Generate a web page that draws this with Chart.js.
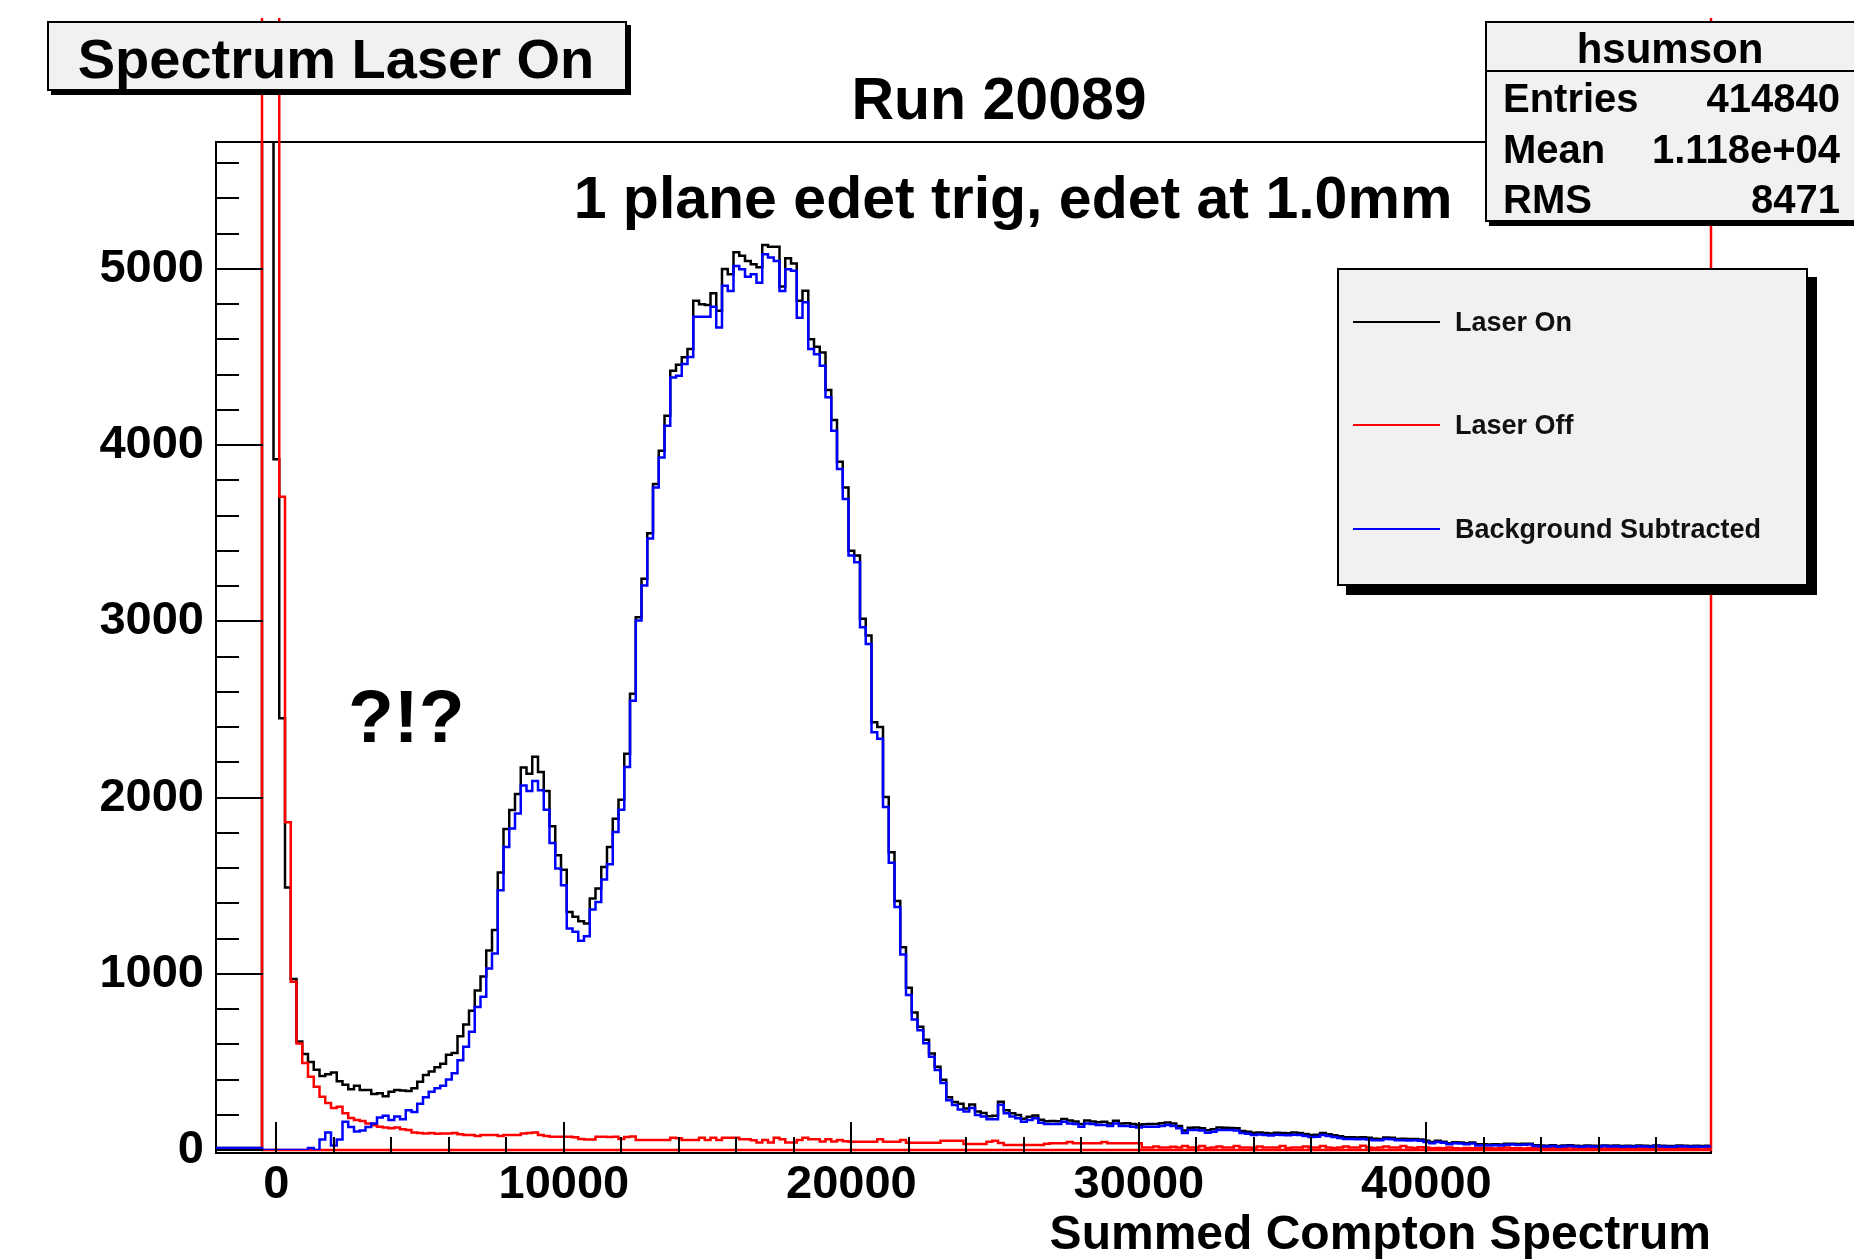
<!DOCTYPE html>
<html lang="en">
<head>
<meta charset="utf-8">
<title>Spectrum Laser On</title>
<script src="https://cdn.jsdelivr.net/npm/chart.js@4.4.1/dist/chart.umd.min.js"></script>
<style>
    html, body { margin: 0; padding: 0; background: #fff; }
    body {
        width: 1854px; height: 1260px; overflow: hidden; position: relative;
        font-family: "Liberation Sans", Arial, Helvetica, sans-serif; font-weight: bold; color: #000;
    }
    #spectrumChart { position: absolute; left: 0; top: 0; }
    .pave { position: absolute; box-sizing: border-box; background: #f3f0f3; border: 2px solid #000; }
    .txt { position: absolute; white-space: nowrap; line-height: 1; }
    .center { transform: translateX(-50%); }
    .legend-line { position: absolute; width: 87px; height: 2px; }
</style>
</head>
<body>
<canvas id="spectrumChart" width="1854" height="1260"></canvas>

<div class="pave" style="left:47px; top:21px; width:580px; height:70px; box-shadow:4px 4px 0 #000;"></div>
<span class="txt center" style="left:336px; top:31px; font-size:56px;">Spectrum Laser On</span>

<span class="txt center" style="left:999px; top:70px; font-size:59px;">Run 20089</span>
<span class="txt center" style="left:1013px; top:169px; font-size:59px;">1 plane edet trig, edet at 1.0mm</span>
<span class="txt" style="left:348px; top:679px; font-size:75px;">?!?</span>

<div id="stats"></div>
<div id="legend"></div>

<script>
// --- HISTOGRAM BINNING ---
const BIN_LOW = -2100;
const BIN_WIDTH = 200;
const X_MIN = -2100;
const X_MAX = 49900;
const Y_MAX = 5720;
const OFF_SCALE = 60000; // pedestal bins run far past the top of the frame

// labelled ticks, plus minor tick spacing
const xTickValues = [0, 10000, 20000, 30000, 40000];
const yTickValues = [0, 1000, 2000, 3000, 4000, 5000];
const X_MAJOR = 10000, X_MINOR = 2000;
const Y_MAJOR = 1000, Y_MINOR = 200;

// --- DATA (counts per 200-channel bin, starting at -2100) ---
const laserOn = [
    12, 12, 12, 12, 12, 12, 12, 12, OFF_SCALE, OFF_SCALE,
    3920, 2450, 1490, 970, 615, 545, 500, 455, 420, 430,
    440, 390, 370, 345, 365, 340, 340, 318, 322, 305,
    330, 340, 338, 335, 350, 387, 425, 445, 470, 490,
    540, 550, 645, 712, 790, 905, 985, 1132, 1248, 1575,
    1822, 1930, 2020, 2170, 2135, 2232, 2145, 2037, 1837, 1672,
    1590, 1351, 1323, 1298, 1285, 1427, 1484, 1606, 1720, 1880,
    1988, 2249, 2589, 3023, 3241, 3500, 3779, 3968, 4167, 4422,
    4456, 4498, 4546, 4819, 4800, 4795, 4862, 4762, 5000, 4970,
    5094, 5075, 5045, 5026, 5009, 5136, 5125, 5125, 4900, 5061,
    5030, 4819, 4876, 4601, 4558, 4525, 4313, 4143, 3905, 3760,
    3401, 3374, 3014, 2920, 2428, 2400, 2003, 1690, 1413, 1150,
    920, 780, 700, 625, 548, 472, 398, 300, 272, 262,
    236, 258, 218, 210, 192, 194, 274, 225, 208, 198,
    178, 188, 196, 171, 163, 164, 163, 176, 168, 162,
    148, 168, 162, 158, 160, 150, 166, 151, 152, 148,
    142, 146, 147, 148, 152, 156, 150, 136, 110, 126,
    128, 124, 112, 118, 128, 126, 125, 123, 108, 103,
    98, 100, 96, 94, 98, 97, 95, 99, 96, 91,
    85, 86, 96, 90, 84, 78, 72, 72, 71, 72,
    69, 64, 63, 71, 70, 63, 64, 62, 63, 60,
    52, 45, 52, 47, 38, 44, 43, 38, 43, 32,
    33, 31, 33, 31, 35, 36, 34, 35, 36, 27,
    26, 24, 27, 23, 26, 27, 24, 22, 25, 24,
    23, 26, 24, 25, 23, 24, 22, 25, 24, 23,
    26, 24, 22, 23, 25, 24, 23, 24, 22, 24
];

const laserOff = [
    null, null, null, null, null, null, null, null, OFF_SCALE, OFF_SCALE,
    OFF_SCALE, 3707, 1860, 955, 604, 493, 416, 359, 302, 266,
    238, 245, 208, 181, 170, 165, 151, 140, 132, 128,
    124, 128, 118, 113, 100, 96, 94, 97, 92, 94,
    94, 97, 90, 85, 85, 80, 85, 85, 85, 80,
    85, 85, 85, 94, 97, 100, 85, 80, 75, 75,
    75, 75, 72, 62, 60, 60, 75, 75, 74, 75,
    62, 74, 76, 57, 57, 57, 57, 57, 57, 70,
    66, 57, 57, 57, 70, 57, 70, 57, 70, 70,
    70, 61, 61, 55, 42, 57, 42, 70, 61, 42,
    42, 57, 70, 61, 61, 48, 61, 48, 57, 50,
    47, 47, 47, 47, 47, 61, 47, 47, 47, 57,
    41, 41, 41, 41, 41, 41, 53, 53, 53, 53,
    34, 34, 34, 34, 47, 53, 40, 28, 28, 28,
    28, 28, 28, 28, 35, 38, 38, 38, 45, 38,
    38, 38, 38, 38, 45, 38, 38, 38, 38, 38,
    38, 14, 14, 20, 14, 14, 18, 14, 22, 14,
    14, 22, 12, 14, 20, 14, 14, 22, 14, 14,
    12, 20, 14, 14, 14, 22, 12, 14, 14, 20,
    14, 14, 22, 14, 12, 14, 20, 14, 14, 24,
    14, 12, 14, 20, 14, 14, 22, 14, 12, 16,
    14, 10, 12, 10, 14, 10, 8, 12, 10, 10,
    12, 10, 8, 10, 14, 10, 10, 8, 12, 10,
    10, 8, 12, 10, 10, 14, 8, 10, 10, 12,
    10, 8, 10, 12, 10, 10, 8, 10, 12, 10,
    8, 10, 10, 12, 10, 8, 10, 10, 14, 10
];

const bgSubtracted = [
    12, 12, 12, 12, 12, 12, 12, 12, 0, 0,
    0, 0, 0, 0, 0, 0, 12, 0, 60, 100,
    25, 60, 160, 130, 105, 110, 130, 150, 185, 195,
    170, 190, 175, 225, 215, 262, 300, 330, 350, 365,
    400, 435, 510, 586, 671, 812, 869, 1030, 1115, 1474,
    1720, 1824, 1909, 2069, 2037, 2094, 2041, 1931, 1742, 1597,
    1502, 1257, 1238, 1187, 1213, 1365, 1408, 1535, 1621, 1805,
    1931, 2173, 2550, 3005, 3203, 3470, 3760, 3930, 4110, 4384,
    4393, 4460, 4500, 4728, 4728, 4728, 4785, 4668, 4904, 4875,
    5017, 4998, 4955, 4970, 4922, 5083, 5064, 5045, 4875, 4998,
    4990, 4723, 4810, 4545, 4516, 4450, 4271, 4082, 3864, 3694,
    3374, 3335, 2967, 2872, 2371, 2334, 1946, 1630, 1379, 1110,
    880, 740, 680, 606, 529, 454, 380, 283, 255, 230,
    218, 238, 198, 190, 175, 175, 257, 208, 190, 180,
    161, 170, 180, 155, 147, 147, 147, 161, 151, 147,
    132, 151, 147, 142, 142, 136, 151, 136, 136, 132,
    128, 132, 132, 132, 136, 142, 136, 123, 96, 113,
    113, 110, 98, 104, 113, 113, 113, 110, 96, 92,
    85, 88, 85, 82, 86, 85, 84, 87, 85, 80,
    74, 75, 85, 80, 74, 68, 62, 63, 61, 62,
    60, 55, 55, 62, 61, 55, 56, 54, 55, 53,
    45, 38, 45, 41, 32, 38, 37, 32, 37, 26,
    27, 25, 27, 26, 30, 31, 29, 30, 31, 22,
    21, 20, 23, 19, 21, 22, 20, 18, 21, 20,
    19, 22, 20, 21, 19, 20, 18, 21, 20, 19,
    22, 20, 18, 19, 21, 20, 19, 20, 18, 20
];

// closing outline of the laser-off histogram (edges of its filled range)
const offFloorX = [-500, -500, 49900, 49900];
const offFloorY = [OFF_SCALE, 0, 0, OFF_SCALE];

const statsTitle = 'hsumson';
const statsRows = [['Entries', '414840'], ['Mean', '1.118e+04'], ['RMS', '8471']];

// --- HELPERS ---
const FONT = '"Liberation Sans", Arial, Helvetica, sans-serif';
const LINE_WIDTH = 2.5;

// one point per low bin edge plus a closing point at the last upper edge
const toSteps = (values) => {
    const pts = values.map((v, i) => ({ x: BIN_LOW + i * BIN_WIDTH, y: v }));
    pts.push({ x: BIN_LOW + values.length * BIN_WIDTH, y: values[values.length - 1] });
    return pts;
};

const series = [
    { label: 'Laser On', color: '#000000', values: laserOn, order: 3 },
    { label: 'Laser Off', color: '#ff0000', values: laserOff, order: 1 },
    { label: 'Background Subtracted', color: '#0000ff', values: bgSubtracted, order: 0 }
];

// lines of the red histogram are not clipped at the top of the frame
const redClip = { left: 2, top: 124, right: 2, bottom: 3 };

const datasets = series.map(s => ({
    label: s.label,
    data: toSteps(s.values),
    borderColor: s.color,
    borderWidth: LINE_WIDTH,
    stepped: true,
    pointRadius: 0,
    spanGaps: false,
    order: s.order,
    clip: s.color === '#ff0000' ? redClip : undefined
}));

datasets.push({
    label: 'Laser Off outline',
    data: offFloorX.map((x, i) => ({ x, y: offFloorY[i] })),
    borderColor: '#ff0000',
    borderWidth: LINE_WIDTH,
    pointRadius: 0,
    order: 2,
    clip: redClip
});

// --- FRAME AND INSIDE TICKS ---
const rootFrame = {
    id: 'rootFrame',
    beforeDatasetsDraw(chart) {
        const { ctx, chartArea: a } = chart;
        ctx.save();
        ctx.strokeStyle = '#000';
        ctx.lineWidth = 2;
        ctx.strokeRect(a.left, a.top, a.right - a.left, a.bottom + 3 - a.top);
        ctx.restore();
    },
    afterDatasetsDraw(chart) {
        const { ctx, chartArea: a, scales: { x, y } } = chart;
        ctx.save();
        ctx.strokeStyle = '#000';
        ctx.lineWidth = 2;
        ctx.beginPath();
        for (let v = 0; v <= Y_MAX; v += Y_MINOR) {
            const py = Math.round(y.getPixelForValue(v));
            const len = v % Y_MAJOR === 0 ? 47 : 23;
            ctx.moveTo(a.left, py);
            ctx.lineTo(a.left + len, py);
        }
        for (let v = 0; v < X_MAX; v += X_MINOR) {
            const px = Math.round(x.getPixelForValue(v));
            const len = v % X_MAJOR === 0 ? 31 : 16;
            ctx.moveTo(px, a.bottom + 3);
            ctx.lineTo(px, a.bottom + 3 - len);
        }
        ctx.stroke();
        ctx.restore();
    }
};

// --- CHART ---
const tickFont = { family: FONT, size: 47, weight: 'bold', lineHeight: 1.2 };

new Chart(document.getElementById('spectrumChart'), {
    type: 'line',
    data: { datasets },
    options: {
        responsive: false,
        animation: false,
        events: [],
        layout: { padding: { left: 0, top: 142, right: 143, bottom: 0 } },
        plugins: { legend: { display: false }, tooltip: { enabled: false }, title: { display: false } },
        scales: {
            x: {
                type: 'linear',
                min: X_MIN,
                max: X_MAX,
                grid: { display: false, drawTicks: false },
                border: { display: false },
                ticks: {
                    autoSkip: false, maxRotation: 0,
                    padding: 7, color: '#000', font: tickFont,
                    callback: v => String(v)
                },
                afterBuildTicks: scale => { scale.ticks = xTickValues.map(value => ({ value })); },
                title: {
                    display: true, text: 'Summed Compton Spectrum', align: 'end', color: '#000',
                    padding: 0, font: { family: FONT, size: 48, weight: 'bold', lineHeight: 1 }
                },
                afterFit: scale => { scale.height = 110; }
            },
            y: {
                type: 'linear',
                min: 0,
                max: Y_MAX,
                grid: { display: false, drawTicks: false },
                border: { display: false },
                ticks: {
                    autoSkip: false,
                    padding: 12, color: '#000', font: tickFont,
                    callback: v => String(v)
                },
                afterBuildTicks: scale => { scale.ticks = yTickValues.map(value => ({ value })); },
                afterFit: scale => { scale.width = 216; }
            }
        }
    },
    plugins: [rootFrame]
});

// --- STATS BOX ---
const renderStats = () => {
    const el = document.getElementById('stats');
    const rowTops = [78, 129, 179];
    el.innerHTML = `
        <div class="pave" style="left:1485px; top:21px; width:400px; height:201px; box-shadow:4px 4px 0 #000;"></div>
        <div style="position:absolute; left:1485px; top:70px; width:400px; height:2px; background:#000;"></div>
        <span class="txt center" style="left:1670px; top:28px; font-size:42px;">${statsTitle}</span>
        ${statsRows.map(([name, value], i) => `
            <span class="txt" style="left:1503px; top:${rowTops[i]}px; font-size:40px;">${name}</span>
            <span class="txt" style="right:14px; top:${rowTops[i]}px; font-size:40px;">${value}</span>
        `).join('')}
    `;
};

// --- LEGEND ---
const renderLegend = () => {
    const el = document.getElementById('legend');
    const rowY = [322, 425, 529];
    el.innerHTML = `
        <div class="pave" style="left:1337px; top:268px; width:471px; height:318px; box-shadow:9px 9px 0 #000;"></div>
        ${series.map((s, i) => `
            <div class="legend-line" style="left:1353px; top:${rowY[i] - 1}px; background:${s.color};"></div>
            <span class="txt" style="left:1455px; top:${rowY[i] - 13}px; font-size:27px; color:#111;">${s.label}</span>
        `).join('')}
    `;
};

renderStats();
renderLegend();
</script>
</body>
</html>
